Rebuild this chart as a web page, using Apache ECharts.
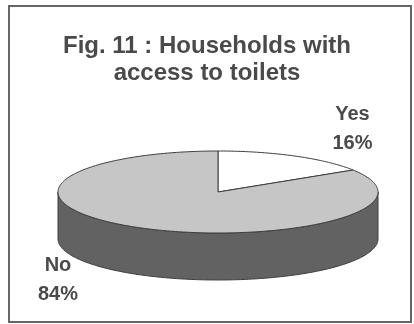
<!DOCTYPE html>
<html>
<head>
<meta charset="utf-8">
<script src="https://cdn.jsdelivr.net/npm/echarts@6/dist/echarts.min.js"></script>
<style>
  html, body { margin: 0; padding: 0; background: #fff; }
  #chart { width: 414px; height: 324px; }
</style>
</head>
<body>
<div id="chart"></div>
<script>
// Households with access to toilets (percent of households)
const categories = ['Yes', 'No'];
const shares = [16, 84];

const titleText = 'Fig. 11 : Households with\naccess to toilets';

const topColors = ['#ffffff', '#c6c6c6'];
const sideColor = '#626262';
const edgeColor = '#3e3e3e';

const chart = echarts.init(document.getElementById('chart'));

const total = shares.reduce((a, b) => a + b, 0);
const starts = [];
let acc = 0;
shares.forEach(v => { starts.push(acc / total * 360); acc += v; });

// ellipse geometry of the tilted disc
const geo = { cx: 218, cy: 192, rx: 160, ry: 41, depth: 47 };

function pt(theta, dy) {
  const r = theta * Math.PI / 180;
  return [geo.cx + geo.rx * Math.sin(r), geo.cy - geo.ry * Math.cos(r) + (dy || 0)];
}
function arc(a, b, dy) {
  const pts = [];
  const n = Math.max(2, Math.ceil(Math.abs(b - a)));
  for (let i = 0; i <= n; i++) pts.push(pt(a + (b - a) * i / n, dy));
  return pts;
}

function renderItem(params, api) {
  const i = params.dataIndex;
  const value = api.value(1);
  const a0 = starts[i];
  const a1 = a0 + value / total * 360;
  const children = [];

  // visible front rim (angles 90..270 measured clockwise from top)
  const s0 = Math.max(a0, 90), s1 = Math.min(a1, 270);
  if (s1 > s0) {
    const pts = arc(s0, s1, 0).concat(arc(s1, s0, geo.depth));
    children.push({
      type: 'polygon', z2: 1,
      shape: { points: pts },
      style: { fill: sideColor, stroke: edgeColor, lineWidth: 1 }
    });
  }

  // top face
  const topPts = [[geo.cx, geo.cy]].concat(arc(a0, a1, 0));
  children.push({
    type: 'polygon', z2: 2,
    shape: { points: topPts },
    style: { fill: topColors[i], stroke: edgeColor, lineWidth: 1, lineJoin: 'round' }
  });

  // category label with percentage
  const label = categories[i] + '\n' + value + '%';
  const anchor = i === 0
    ? [geo.cx + geo.rx * 0.84, geo.cy - geo.ry - 22]
    : [geo.cx - geo.rx * 1.0, geo.cy + geo.ry + geo.depth];
  children.push({
    type: 'text', z2: 3,
    x: anchor[0], y: anchor[1],
    style: {
      text: label,
      align: 'center', verticalAlign: 'middle',
      font: 'bold 20px "Liberation Sans", Arial, sans-serif',
      lineHeight: 29,
      fill: '#4a4a4a'
    }
  });

  return { type: 'group', children };
}

chart.setOption({
  backgroundColor: '#ffffff',
  animation: false,
  title: {
    text: titleText,
    left: 'center',
    top: 28,
    textStyle: {
      fontFamily: '"Liberation Sans", Arial, sans-serif',
      fontWeight: 'bold',
      fontSize: 24,
      lineHeight: 27,
      color: '#4a4a4a'
    }
  },
  graphic: [{
    type: 'rect',
    shape: { x: 9, y: 6, width: 402, height: 316 },
    style: { fill: 'none', stroke: '#666666', lineWidth: 2 },
    silent: true
  }],
  series: [{
    type: 'custom',
    coordinateSystem: 'none',
    renderItem: renderItem,
    data: categories.map((c, i) => [i, shares[i]])
  }]
});
</script>
</body>
</html>
